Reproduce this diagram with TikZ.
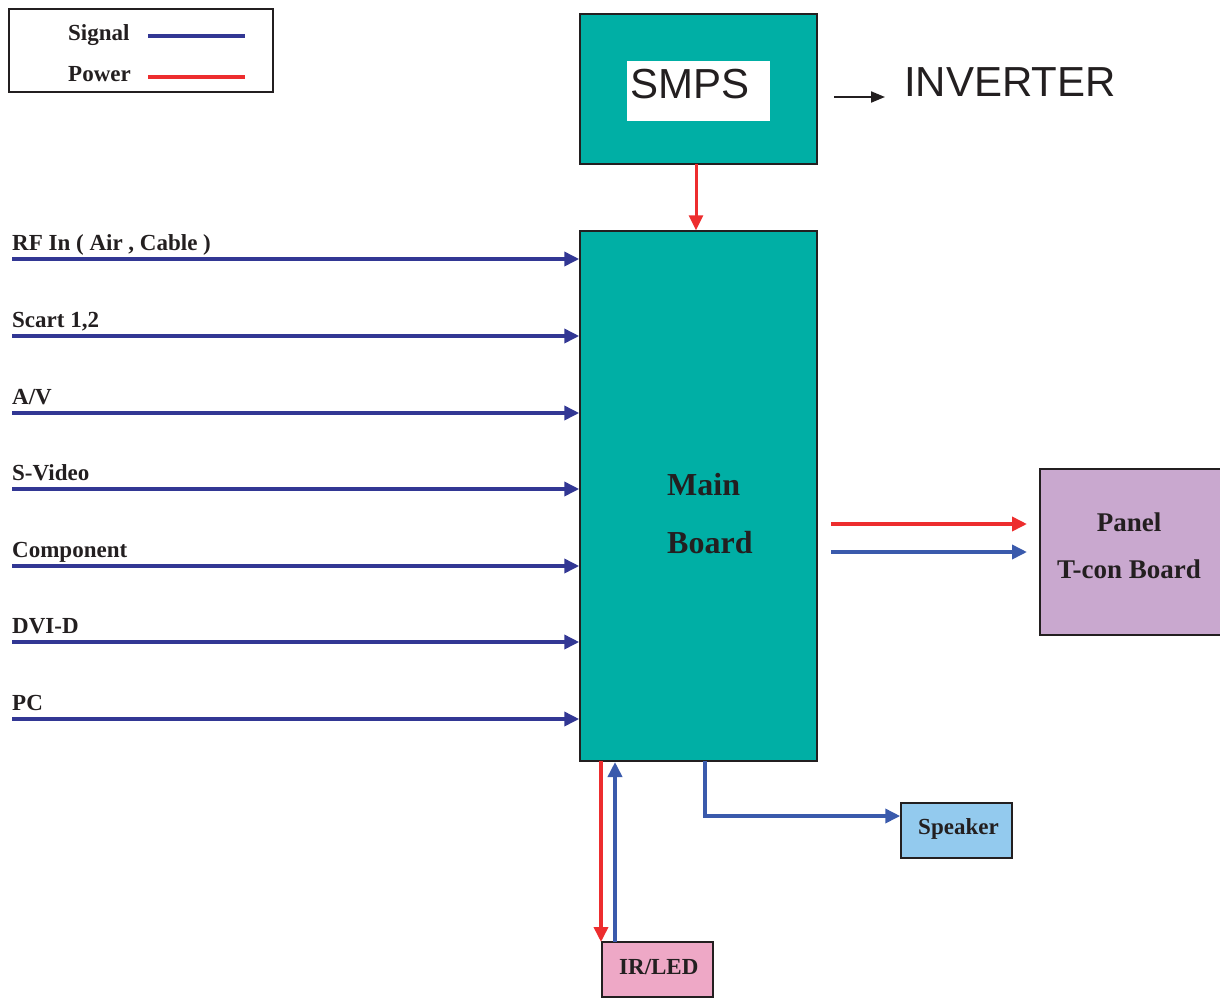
\documentclass[tikz,border=0pt]{standalone}
\usepackage{fontspec}
\setmainfont{Liberation Serif}
\newfontfamily\sansf{Liberation Sans}
\usetikzlibrary{arrows.meta}
\definecolor{teal1}{RGB}{0,175,165}
\definecolor{purp}{RGB}{201,168,207}
\definecolor{lblue}{RGB}{147,202,238}
\definecolor{pink1}{RGB}{238,168,198}
\definecolor{dblue}{RGB}{50,55,148}
\definecolor{mblue}{RGB}{58,90,172}
\definecolor{pred}{RGB}{237,45,46}
\definecolor{ink}{RGB}{35,31,32}
\tikzset{
  box/.style={draw=ink, line width=1.5pt, inner sep=0pt},
  lbl/.style={font=\bfseries\fontsize{23}{26}\selectfont, text=ink, anchor=base west, inner sep=0pt},
  tip/.style={-{Triangle[length=15pt,width=14pt]}},
  sig/.style={draw=dblue, line width=3.6pt, tip},
  sigb/.style={draw=mblue, line width=3.6pt, tip},
  pwr/.style={draw=pred, line width=3.6pt, tip},
}
\begin{document}
\begin{tikzpicture}[x=1pt,y=-1pt]
\useasboundingbox (0,0) rectangle (1220,999);
% legend
\node[box, fill=white, minimum width=264pt, minimum height=83pt] (legend) at (141,50.5) {};
\node[lbl] (sigtxt) at (68,40) {Signal};
\node[lbl] (pwrtxt) at (68,81) {Power};
\coordinate (ls1) at (148,36); \coordinate (ls2) at (245,36);
\coordinate (lp1) at (148,77); \coordinate (lp2) at (245,77);
\draw[draw=dblue, line width=3.6pt] (ls1) -- (ls2);
\draw[draw=pred, line width=3.6pt] (lp1) -- (lp2);
% SMPS
\node[box, fill=teal1, minimum width=237pt, minimum height=150pt] (smps) at (698.5,89) {};
\node[fill=white, minimum width=143pt, minimum height=60pt, inner sep=0pt] (smpsw) at (698.5,91) {};
\node[font=\sansf\fontsize{42}{46}\selectfont, text=ink, anchor=base west, inner sep=0pt] (smpstxt) at (630,98) {SMPS};
\node[font=\sansf\fontsize{42}{46}\selectfont, text=ink, anchor=base west, inner sep=0pt] (inv) at (904,96) {INVERTER};
\coordinate (ia) at (834,97); \coordinate (ib) at (885,97);
\draw[draw=ink, line width=2pt, -{Triangle[length=14pt,width=11pt]}] (ia) -- (ib);
% main board
\node[box, fill=teal1, minimum width=237pt, minimum height=530pt] (main) at (698.5,496) {};
\node[font=\bfseries\fontsize{32}{36}\selectfont, text=ink, anchor=base west, inner sep=0pt] (mt1) at (667,495) {Main};
\node[font=\bfseries\fontsize{32}{36}\selectfont, text=ink, anchor=base west, inner sep=0pt] (mt2) at (667,553) {Board};
\coordinate (sm0) at (696,164);
\draw[draw=pred, line width=3pt, tip] (sm0) -- (main.north -| sm0);
% inputs
\foreach \y/\t [count=\i] in {259/{RF In ( Air , Cable )},336/{Scart 1,2},413/{A/V},489/{S-Video},566/{Component},642/{DVI-D},719/{PC}}{
  \coordinate (in\i) at (12,\y);
  \node[lbl] (inl\i) at (12,\y-9) {\t};
  \draw[sig] (in\i) -- (main.west |- in\i);
}
% panel
\node[box, fill=purp, minimum width=184pt, minimum height=166pt] (panel) at (1132,552) {};
\node[font=\bfseries\fontsize{27}{30}\selectfont, text=ink, anchor=base, inner sep=0pt] (pt1) at (1129,531) {Panel};
\node[font=\bfseries\fontsize{27}{30}\selectfont, text=ink, anchor=base, inner sep=0pt] (pt2) at (1129,578) {T-con Board};
\coordinate (pr1) at (831,524); \coordinate (pb1) at (831,552);
\coordinate (pr2) at (1027,524); \coordinate (pb2) at (1027,552);
\draw[pwr] (pr1) -- (pr2);
\draw[sigb] (pb1) -- (pb2);
% speaker
\node[box, fill=lblue, minimum width=111pt, minimum height=55pt] (spk) at (956.5,830.5) {};
\node[lbl] (spkt) at (918,834) {Speaker};
\coordinate (sp0) at (705,761);
\draw[sigb] (sp0) |- (spk.west |- 0,816);
% IR/LED
\node[box, fill=pink1, minimum width=111pt, minimum height=55pt] (ir) at (657.5,969.5) {};
\node[lbl] (irt) at (619,974) {IR/LED};
\coordinate (r0) at (601,761); \coordinate (r1) at (601,942);
\coordinate (b0) at (615,942); \coordinate (b1) at (615,762);
\draw[pwr] (r0) -- (r1);
\draw[sigb] (b0) -- (b1);
\end{tikzpicture}
\end{document}
